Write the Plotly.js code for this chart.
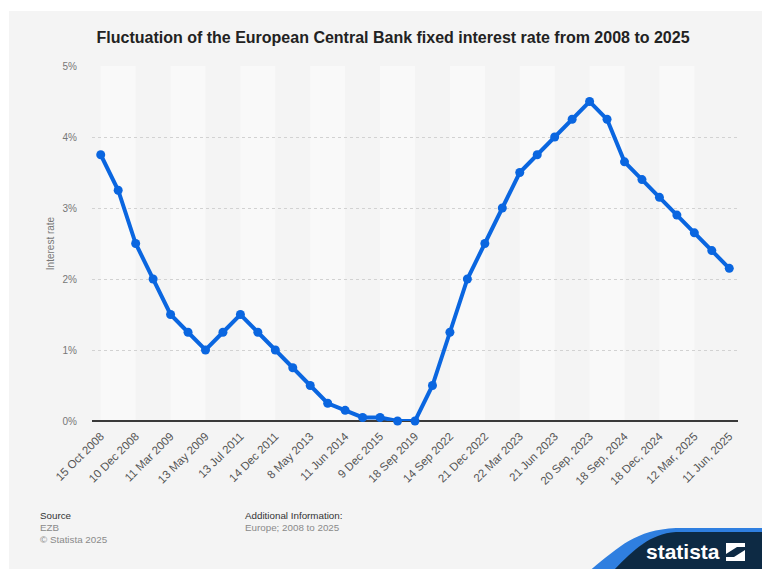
<!DOCTYPE html>
<html>
<head>
<meta charset="utf-8">
<script src="https://cdn.plot.ly/plotly-3.0.1.min.js"></script>
<style>
  html, body { margin: 0; padding: 0; background: #ffffff; width: 762px; height: 569px; overflow: hidden; }
  #chart { position: absolute; left: 9px; top: 11px; width: 753px; height: 558px; }
</style>
</head>
<body>
<div id="chart"></div>
<script>
// ---- data ----
const dates = [
  "15 Oct 2008", "12 Nov 2008", "10 Dec 2008", "21 Jan 2009", "11 Mar 2009", "8 Apr 2009",
  "13 May 2009", "13 Apr 2011", "13 Jul 2011", "9 Nov 2011", "14 Dec 2011", "11 Jul 2012",
  "8 May 2013", "13 Nov 2013", "11 Jun 2014", "10 Sep 2014", "9 Dec 2015", "16 Mar 2016",
  "18 Sep 2019", "27 Jul 2022", "14 Sep 2022", "2 Nov 2022", "21 Dec 2022", "8 Feb 2023",
  "22 Mar 2023", "10 May 2023", "21 Jun 2023", "2 Aug 2023", "20 Sep, 2023", "12 Jun, 2024",
  "18 Sep, 2024", "23 Oct, 2024", "18 Dec, 2024", "5 Feb, 2025", "12 Mar, 2025", "23 Apr, 2025",
  "11 Jun, 2025"
];
const rates = [
  3.75, 3.25, 2.5, 2.0, 1.5, 1.25,
  1.0, 1.25, 1.5, 1.25, 1.0, 0.75,
  0.5, 0.25, 0.15, 0.05, 0.05, 0.0,
  0.0, 0.5, 1.25, 2.0, 2.5, 3.0,
  3.5, 3.75, 4.0, 4.25, 4.5, 4.25,
  3.65, 3.4, 3.15, 2.9, 2.65, 2.4,
  2.15
];
const tickLabels = [
  "15 Oct 2008", "10 Dec 2008", "11 Mar 2009", "13 May 2009", "13 Jul 2011", "14 Dec 2011",
  "8 May 2013", "11 Jun 2014", "9 Dec 2015", "18 Sep 2019", "14 Sep 2022", "21 Dec 2022",
  "22 Mar 2023", "21 Jun 2023", "20 Sep, 2023", "18 Sep, 2024", "18 Dec, 2024", "12 Mar, 2025",
  "11 Jun, 2025"
];
const yTicks = [0, 1, 2, 3, 4, 5];

// ---- helpers: page pixel -> paper coords (plot area 92..738 x 66..421 on page) ----
const PX0 = 92, PX1 = 738, PY0 = 66, PY1 = 421;
const px = X => (X - PX0) / (PX1 - PX0);
const py = Y => (PY1 - Y) / (PY1 - PY0);
function path(cmds) {
  return cmds.map(c => {
    if (typeof c === 'string') return c;
    return px(c[0]).toFixed(5) + ',' + py(c[1]).toFixed(5);
  }).join(' ');
}

const FONT = "Liberation Sans, Arial, Helvetica, sans-serif";

// alternating light bands between category positions
const shapes = [];
for (let i = 0; i + 2 <= dates.length - 1; i += 4) {
  shapes.push({
    type: 'rect', xref: 'x', yref: 'paper', x0: i, x1: i + 2, y0: 0, y1: 1,
    fillcolor: '#f9f9f9', line: { width: 0 }, layer: 'below'
  });
}

// statista logo decoration
shapes.push({
  type: 'path', xref: 'paper', yref: 'paper', layer: 'above',
  path: 'M ' + path([[588, 572], 'C', [618, 548], [634, 530], [676, 528], 'L', [765, 528], 'L', [765, 533], 'L', [676, 533], 'C', [648, 535], [632, 552], [614, 572], 'Z']),
  fillcolor: '#2f7fe0', line: { width: 0 }
});
shapes.push({
  type: 'path', xref: 'paper', yref: 'paper', layer: 'above',
  path: 'M ' + path([[612, 572], 'C', [632, 552], [648, 534], [676, 532], 'L', [765, 532], 'L', [765, 572], 'Z']),
  fillcolor: '#0d2a44', line: { width: 0 }
});
shapes.push({
  type: 'path', xref: 'paper', yref: 'paper', layer: 'above',
  path: 'M ' + path([[726, 543], 'L', [745, 543], 'L', [745, 561], 'L', [726, 561], 'Z']),
  fillcolor: '#ffffff', line: { width: 0 }
});
shapes.push({
  type: 'path', xref: 'paper', yref: 'paper', layer: 'above',
  path: 'M ' + path([[726, 554], 'L', [737, 547], 'L', [745, 547], 'L', [745, 550], 'L', [734, 557], 'L', [726, 557], 'Z']),
  fillcolor: '#0d2a44', line: { width: 0 }
});

const annotations = [
  { text: 'Source', x: px(38), y: py(515), color: '#333333' },
  { text: 'EZB', x: px(38), y: py(527), color: '#8a8a8a' },
  { text: '© Statista 2025', x: px(38), y: py(539), color: '#8a8a8a' },
  { text: 'Additional Information:', x: px(243), y: py(515), color: '#333333' },
  { text: 'Europe; 2008 to 2025', x: px(243), y: py(527), color: '#8a8a8a' }
].map(a => ({
  text: a.text, x: a.x, y: a.y, xref: 'paper', yref: 'paper',
  xanchor: 'left', yanchor: 'middle', showarrow: false,
  font: { family: FONT, size: 9.8, color: a.color }
}));
annotations.push({
  text: '<b>statista</b>', x: px(683), y: py(551), xref: 'paper', yref: 'paper',
  xanchor: 'center', yanchor: 'middle', showarrow: false,
  font: { family: FONT, size: 21, color: '#ffffff' }
});

const tickVals = [];
for (let i = 0; i < dates.length; i += 2) tickVals.push(dates[i]);

const trace = {
  type: 'scatter', mode: 'lines+markers',
  x: dates, y: rates,
  line: { color: '#0a66e0', width: 4 },
  marker: { color: '#0a66e0', size: 9 },
  cliponaxis: false,
  hoverinfo: 'skip'
};

const layout = {
  width: 753, height: 558,
  margin: { l: PX0 - 9, r: 762 - PX1, t: PY0 - 11, b: 569 - PY1 },
  paper_bgcolor: '#f4f4f4',
  plot_bgcolor: '#f4f4f4',
  showlegend: false,
  title: {
    text: '<b>Fluctuation of the European Central Bank fixed interest rate from 2008 to 2025</b>',
    font: { family: FONT, size: 16, color: '#222222' },
    x: 0.51, xanchor: 'center', y: 1 - 26 / 558, yanchor: 'middle'
  },
  xaxis: {
    type: 'category',
    range: [-0.5, dates.length - 0.5],
    tickmode: 'array', tickvals: tickVals, ticktext: tickLabels,
    tickangle: -45,
    tickfont: { family: FONT, size: 11.5, color: '#555555' },
    ticks: 'outside', ticklen: 3, tickcolor: 'rgba(0,0,0,0)',
    showgrid: false, zeroline: false, showline: false
  },
  yaxis: {
    range: [0, 5],
    tickvals: yTicks, ticktext: yTicks.map(v => v + '%'),
    tickfont: { family: FONT, size: 10, color: '#777777' },
    ticks: 'outside', ticklen: 12, tickcolor: 'rgba(0,0,0,0)',
    showgrid: true, gridcolor: '#d2d2d2', gridwidth: 1, griddash: 'dot',
    zeroline: true, zerolinecolor: '#3a3a3a', zerolinewidth: 2,
    showline: false,
    title: { text: 'Interest rate', font: { family: FONT, size: 10, color: '#777777' }, standoff: 6 }
  },
  shapes: shapes,
  annotations: annotations
};

Plotly.newPlot('chart', [trace], layout, { staticPlot: true, displayModeBar: false });
</script>
</body>
</html>
